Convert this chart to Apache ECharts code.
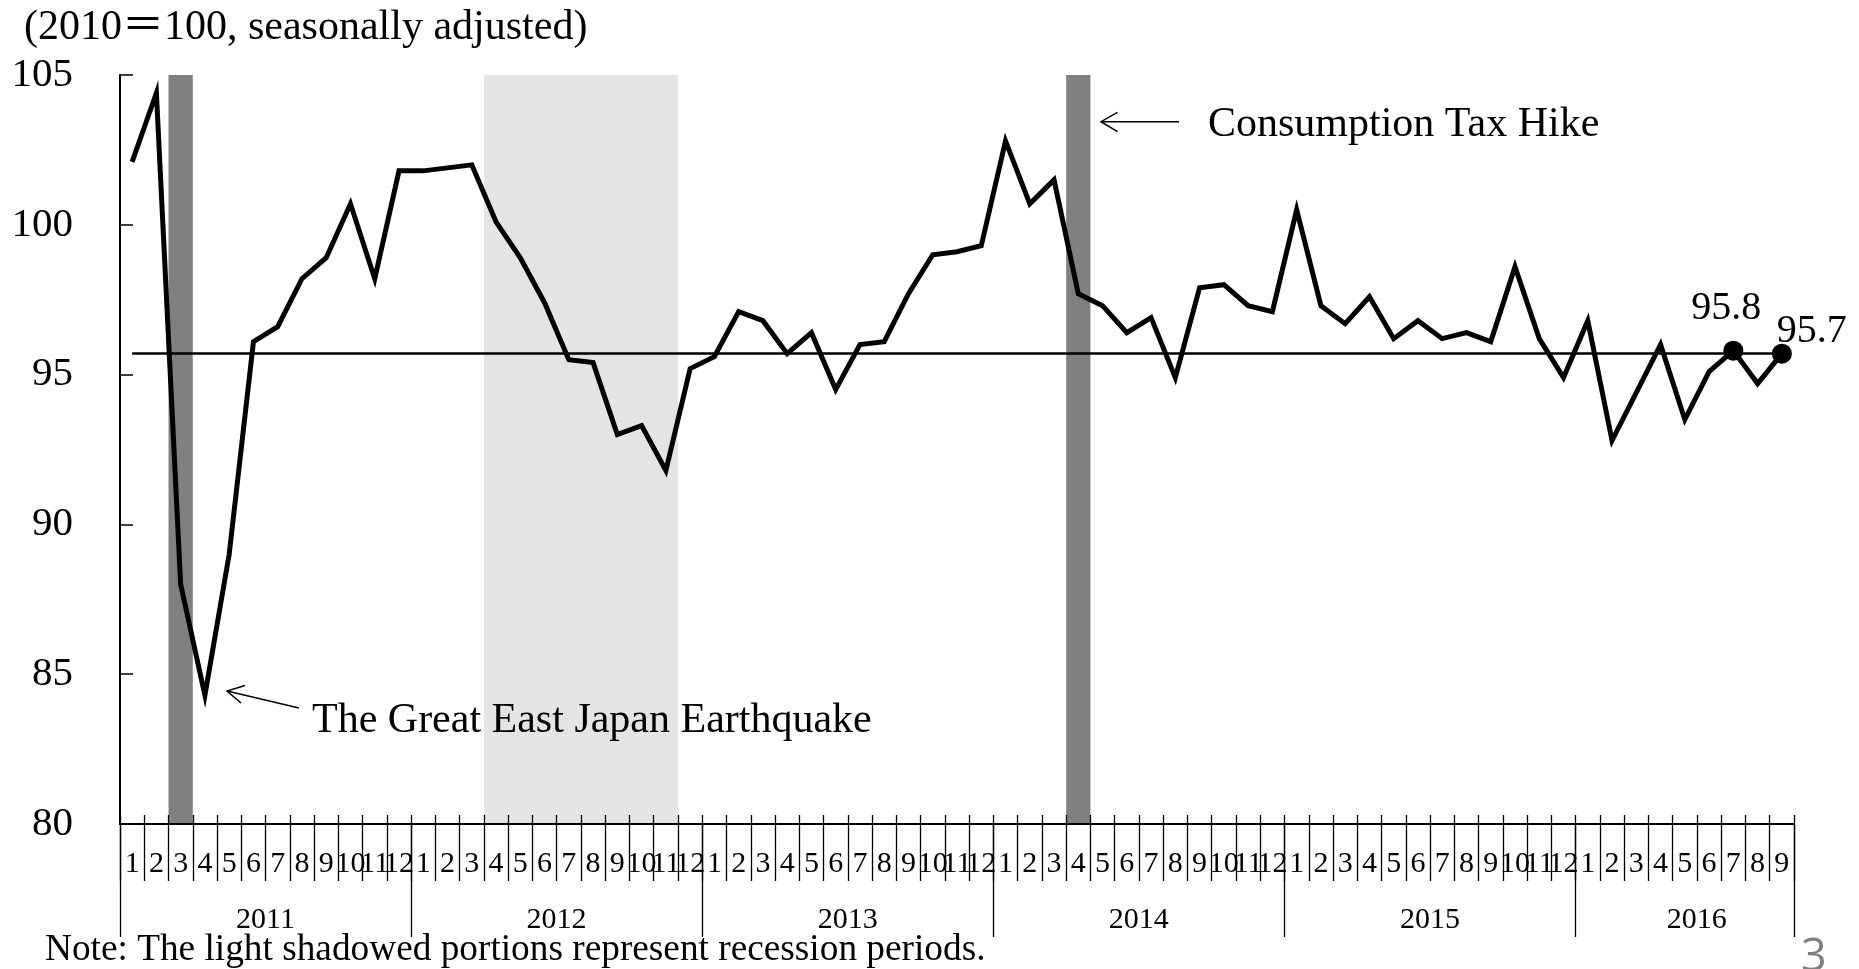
<!DOCTYPE html>
<html><head><meta charset="utf-8">
<script src="https://cdn.jsdelivr.net/npm/echarts@6/dist/echarts.min.js"></script>
<style>html,body{margin:0;padding:0;background:#fff}#c{width:1859px;height:969px}</style>
</head><body><div id="c"></div>
<script>
// ---------- data ----------
const years = ['2011', '2012', '2013', '2014', '2015', '2016'];
const monthsPerYear = [12, 12, 12, 12, 12, 9];
const values2011 = [102.1, 104.4, 88.0, 84.3, 89.0, 96.1, 96.6, 98.2, 98.9, 100.7, 98.2, 101.8];
const values2012 = [101.8, 101.9, 102.0, 100.1, 98.9, 97.4, 95.5, 95.4, 93.0, 93.3, 91.8, 95.2];
const values2013 = [95.6, 97.1, 96.8, 95.7, 96.4, 94.5, 96.0, 96.1, 97.7, 99.0, 99.1, 99.3];
const values2014 = [102.8, 100.7, 101.5, 97.7, 97.3, 96.4, 96.9, 94.9, 97.9, 98.0, 97.3, 97.1];
const values2015 = [100.5, 97.3, 96.7, 97.6, 96.2, 96.8, 96.2, 96.4, 96.1, 98.6, 96.2, 94.9];
const values2016 = [96.8, 92.8, 94.4, 96.0, 93.5, 95.1, 95.8, 94.7, 95.7];
const yTicks = [80, 85, 90, 95, 100, 105];
const referenceValue = 95.7;
const highlightMonths = ['2016-7', '2016-9'];
const recessionBands = [['2012-4', '2012-11']];
const eventBands = [['2011-3', '2011-3'], ['2014-4', '2014-4']];
const unitText = '(2010\uFF1D100, seasonally adjusted)';
const earthquakeText = 'The Great East Japan Earthquake';
const taxText = 'Consumption Tax Hike';
const noteText = 'Note: The light shadowed portions represent recession periods.';
const pageText = '3';

// ---------- build ----------
const allValues = [].concat(values2011, values2012, values2013, values2014, values2015, values2016);
const cats = [], monthLabels = [], yearLabelAt = [];
years.forEach((y, yi) => {
  const n = monthsPerYear[yi];
  const labelIdx = Math.floor((n - 1) / 2);
  for (let m = 1; m <= n; m++) {
    cats.push(y + '-' + m);
    monthLabels.push(String(m));
    yearLabelAt.push(m - 1 === labelIdx ? y : '');
  }
});
const yTop = yTicks[yTicks.length - 1];
const yBottom = yTicks[0];
const bandRows = (bands) => bands.map(b => [cats.indexOf(b[0]), cats.indexOf(b[1])]);
function renderBand(params, api) {
  const s = api.value(0), e = api.value(1);
  const pTop = api.coord([s, yTop]);
  const pEnd = api.coord([e, yBottom]);
  const bw = api.size([1, 0])[0];
  return {
    type: 'rect',
    shape: { x: pTop[0] - bw / 2, y: pTop[1], width: pEnd[0] - pTop[0] + bw, height: pEnd[1] - pTop[1] },
    style: { fill: api.visual('color') }
  };
}

const serif = "'Liberation Serif','Times New Roman','Noto Sans CJK JP',serif";
const labelStyles = {
  '2016-7': { position: 'top', distance: 12, offset: [-7, 0] },
  '2016-9': { position: 'top', distance: 5, offset: [30, 13] }
};
const seriesData = cats.map((c, i) => {
  if (highlightMonths.indexOf(c) >= 0) {
    const ls = labelStyles[c];
    return {
      value: allValues[i], symbol: 'circle', symbolSize: 20,
      itemStyle: { color: '#000' },
      label: { show: true, formatter: '{c}', fontFamily: serif, fontSize: 40, color: '#000',
               position: ls.position, distance: ls.distance, offset: ls.offset }
    };
  }
  return allValues[i];
});

const tickLine = { color: '#000', width: 1.3 };
const chart = echarts.init(document.getElementById('c'), null, { renderer: 'canvas' });
chart.setOption({
  backgroundColor: '#fff',
  animation: false,
  grid: { left: 120, right: 65, top: 75, bottom: 145, containLabel: false },
  xAxis: [
    { type: 'category', data: cats, boundaryGap: true, position: 'bottom', z: 3,
      axisLine: { show: true, onZero: false, lineStyle: { color: '#000', width: 2 } },
      axisTick: { show: true, inside: true, length: 9, interval: 0, lineStyle: tickLine },
      axisLabel: { show: true, interval: 0, formatter: (v, i) => monthLabels[i],
                   fontFamily: serif, fontSize: 30, color: '#000', margin: 25 },
      splitLine: { show: false } },
    { type: 'category', data: cats, boundaryGap: true, position: 'bottom', z: 3,
      axisLine: { show: false, onZero: false },
      axisTick: { show: true, length: 57, interval: 0, lineStyle: tickLine },
      axisLabel: { show: false }, splitLine: { show: false } },
    { type: 'category', data: cats, boundaryGap: true, position: 'bottom', z: 3,
      axisLine: { show: false, onZero: false },
      axisTick: { show: true, length: 113, interval: (i) => monthLabels[i] === '1', lineStyle: tickLine },
      axisLabel: { show: true, interval: (i) => yearLabelAt[i] !== '', formatter: (v, i) => yearLabelAt[i],
                   fontFamily: serif, fontSize: 30, color: '#000', margin: 81, padding: [0, 0, 0, 24] },
      splitLine: { show: false } }
  ],
  yAxis: { type: 'value', min: yBottom, max: yTop, interval: yTicks[1] - yTicks[0], z: 3,
    axisLine: { show: true, lineStyle: { color: '#000', width: 2 } },
    axisTick: { show: true, inside: true, length: 13, lineStyle: { color: '#000', width: 1.5 } },
    axisLabel: { fontFamily: serif, fontSize: 41, color: '#000', margin: 47 },
    splitLine: { show: false } },
  series: [
    { type: 'custom', name: 'recession', xAxisIndex: 0, yAxisIndex: 0, data: bandRows(recessionBands),
      encode: { x: [0, 1] }, renderItem: renderBand, itemStyle: { color: '#e4e4e4' }, z: 1, silent: true },
    { type: 'custom', name: 'event', xAxisIndex: 0, yAxisIndex: 0, data: bandRows(eventBands),
      encode: { x: [0, 1] }, renderItem: renderBand, itemStyle: { color: '#808080' }, z: 1, silent: true },
    { type: 'line', xAxisIndex: 0, yAxisIndex: 0, data: seriesData, symbol: 'none', showAllSymbol: true,
      lineStyle: { color: '#000', width: 5, join: 'miter' }, itemStyle: { color: '#000' }, z: 2, silent: true,
      markLine: { silent: true, symbol: ['none', 'none'], label: { show: false },
        lineStyle: { color: '#000', width: 2.5, type: 'solid' },
        data: [[{ coord: [cats[0], referenceValue] }, { coord: [cats[cats.length - 1], referenceValue] }]] } }
  ],
  graphic: [
    { type: 'text', z: 10, x: 24, y: 28, style: { text: unitText, fontSize: 42, fontFamily: serif, fill: '#000', textVerticalAlign: 'middle' } },
    { type: 'text', z: 10, x: 312, y: 721, style: { text: earthquakeText, fontSize: 42, fontFamily: serif, fill: '#000', textVerticalAlign: 'middle' } },
    { type: 'line', z: 10, shape: { x1: 299, y1: 708, x2: 227, y2: 691 }, style: { stroke: '#000', lineWidth: 1.5 } },
    { type: 'polyline', z: 10, shape: { points: [[245, 685.5], [227, 691], [241, 703]] }, style: { stroke: '#000', lineWidth: 1.5, fill: null } },
    { type: 'text', z: 10, x: 1208, y: 124.5, style: { text: taxText, fontSize: 42, fontFamily: serif, fill: '#000', textVerticalAlign: 'middle' } },
    { type: 'line', z: 10, shape: { x1: 1179, y1: 121.7, x2: 1101, y2: 121.7 }, style: { stroke: '#000', lineWidth: 1.5 } },
    { type: 'polyline', z: 10, shape: { points: [[1117.5, 112.3], [1101, 121.7], [1117.5, 131.7]] }, style: { stroke: '#000', lineWidth: 1.5, fill: null } },
    { type: 'text', z: 10, x: 45, y: 950, style: { text: noteText, fontSize: 37.3, fontFamily: serif, fill: '#000', textVerticalAlign: 'middle' } },
    { type: 'text', z: 10, x: 1801, y: 958, style: { text: pageText, fontSize: 45, fontFamily: "'Open Sans','DejaVu Sans',sans-serif", fill: '#808080', textVerticalAlign: 'middle' } }
  ]
});
</script></body></html>
